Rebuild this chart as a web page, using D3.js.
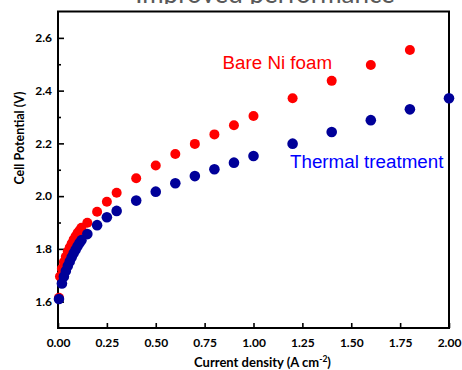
<!DOCTYPE html>
<html>
<head>
<meta charset="utf-8">
<script src="https://cdn.jsdelivr.net/npm/d3@7"></script>
<style>
  body { margin: 0; background: #fff; }
  svg { display: block; }
</style>
</head>
<body>
<div id="chart"></div>
<script>
// current density (A cm-2) and cell potential (V)
const bareCurrent = [0.005, 0.01, 0.02, 0.03, 0.04, 0.05, 0.06, 0.07, 0.08, 0.09, 0.10, 0.11, 0.12,
  0.15, 0.2, 0.25, 0.3, 0.4, 0.5, 0.6, 0.7, 0.8, 0.9, 1.0, 1.2, 1.4, 1.6, 1.8]
const barePotential = [1.615, 1.695, 1.725, 1.75, 1.77, 1.79, 1.805, 1.82, 1.835, 1.848, 1.86, 1.87, 1.88,
  1.899, 1.941, 1.979, 2.013, 2.068, 2.116, 2.160, 2.198, 2.234, 2.269, 2.304, 2.371, 2.437, 2.497, 2.554]

const thermalCurrent = [0.005, 0.02, 0.03, 0.04, 0.05, 0.06, 0.07, 0.08, 0.09, 0.10, 0.11, 0.12,
  0.15, 0.2, 0.25, 0.3, 0.4, 0.5, 0.6, 0.7, 0.8, 0.9, 1.0, 1.2, 1.4, 1.6, 1.8, 2.0]
const thermalPotential = [1.61, 1.669, 1.695, 1.716, 1.735, 1.752, 1.768, 1.783, 1.797, 1.81, 1.822, 1.833,
  1.856, 1.890, 1.920, 1.944, 1.983, 2.017, 2.049, 2.076, 2.102, 2.127, 2.152, 2.199, 2.243, 2.288, 2.329, 2.371]

const xTicks = [0, 0.25, 0.5, 0.75, 1.0, 1.25, 1.5, 1.75, 2.0]
const yTicks = [1.6, 1.8, 2.0, 2.2, 2.4, 2.6]
const yMinorTicks = [1.7, 1.9, 2.1, 2.3, 2.5]

const width = 462,
    height = 370;
const plotLeft = 58, plotRight = 449, plotTop = 11.5, plotBottom = 328;

const svg = d3.select("#chart")
    .append("svg")
    .attr("width", width)
    .attr("height", height);

const x = d3.scaleLinear().domain([0, 2]).range([plotLeft, plotRight])
const y = d3.scaleLinear().domain([1.5, 2.7]).range([plotBottom, plotTop])

// title, cut off at the top of the picture
svg.append("clipPath").attr("id", "titleClip")
    .append("rect").attr("x", 0).attr("y", -60).attr("width", width).attr("height", 64)
svg.append("text")
    .attr("clip-path", "url(#titleClip)")
    .attr("x", 265)
    .attr("y", 3)
    .attr("text-anchor", "middle")
    .style("font-family", "Lato, sans-serif")
    .style("font-size", "26px")
    .style("fill", "#595959")
    .text("Improved performance")

// axes
svg.append("g")
    .attr("transform", `translate(0,${plotBottom})`)
    .call(d3.axisBottom(x).tickValues(xTicks).tickFormat(d3.format(".2f"))
        .tickSizeInner(-5).tickSizeOuter(0).tickPadding(10.5))
svg.append("g")
    .attr("transform", `translate(${plotLeft},0)`)
    .call(d3.axisLeft(y).tickValues(yTicks).tickFormat(d3.format(".1f"))
        .tickSizeInner(-6).tickSizeOuter(0).tickPadding(6))
svg.append("g")
    .attr("transform", `translate(${plotLeft},0)`)
    .call(d3.axisLeft(y).tickValues(yMinorTicks).tickFormat("")
        .tickSizeInner(-3).tickSizeOuter(0))

svg.selectAll(".domain").remove()
svg.selectAll(".tick line").attr("stroke", "#000").attr("stroke-width", 1.6)
svg.selectAll(".tick text")
    .style("font-family", "Lato, sans-serif")
    .style("font-size", "12px")
    .style("font-weight", "bold")
    .style("fill", "#000")

svg.append("rect")
    .attr("x", plotLeft).attr("y", plotTop)
    .attr("width", plotRight - plotLeft).attr("height", plotBottom - plotTop)
    .attr("fill", "none")
    .attr("stroke", "#000")
    .attr("stroke-width", 2)

// points
svg.append("g")
    .selectAll("circle")
    .data(d3.zip(bareCurrent, barePotential))
    .join("circle")
    .attr("cx", d => x(d[0]))
    .attr("cy", d => y(d[1]))
    .attr("r", 5)
    .attr("fill", "#ff0000")

svg.append("g")
    .selectAll("circle")
    .data(d3.zip(thermalCurrent, thermalPotential))
    .join("circle")
    .attr("cx", d => x(d[0]))
    .attr("cy", d => y(d[1]))
    .attr("r", 5.3)
    .attr("fill", "#000099")

// labels
svg.append("text")
    .attr("x", 222.5).attr("y", 69)
    .style("font-family", "'Liberation Sans', Arial, sans-serif")
    .style("font-size", "18.8px")
    .style("fill", "#ff0000")
    .text("Bare Ni foam")

svg.append("text")
    .attr("x", 290).attr("y", 168)
    .style("font-family", "'Liberation Sans', Arial, sans-serif")
    .style("font-size", "18.8px")
    .style("fill", "#0000ff")
    .text("Thermal treatment")

const xLabel = svg.append("text")
    .attr("x", 262.5).attr("y", 367)
    .attr("text-anchor", "middle")
    .style("font-family", "Lato, sans-serif")
    .style("font-size", "13px")
    .style("font-weight", "bold")
xLabel.append("tspan").text("Current density (A cm")
xLabel.append("tspan").attr("dy", -5).style("font-size", "8.5px").text("-2")
xLabel.append("tspan").attr("dy", 5).text(")")

svg.append("text")
    .attr("transform", "translate(24,138) rotate(-90)")
    .attr("text-anchor", "middle")
    .style("font-family", "Lato, sans-serif")
    .style("font-size", "12.5px")
    .style("font-weight", "bold")
    .text("Cell Potential (V)")
</script>
</body>
</html>
